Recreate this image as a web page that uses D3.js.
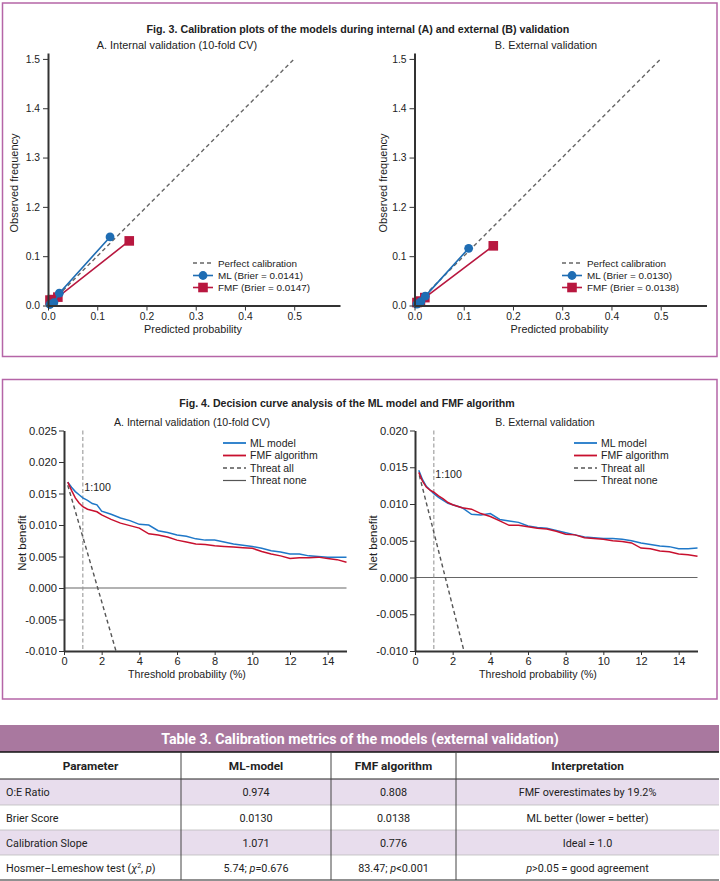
<!DOCTYPE html>
<html>
<head>
<meta charset="utf-8">
<script src="https://cdn.jsdelivr.net/npm/d3@7"></script>
<style>
  body { margin: 0; background: #fff; }
  text { font-family: "Liberation Sans", Arial, sans-serif; fill: #222; }
  .tbl text { font-family: Roboto, "Liberation Sans", sans-serif; }
  .axis path, .axis line { stroke: #333; }
  .axis text { font-size: 10px; fill: #222; }
</style>
</head>
<body>
<div id="chart"></div>
<script>
// ---- data: calibration plots (Fig. 3) ----
const calibTicks = [0, 0.1, 0.2, 0.3, 0.4, 0.5];
const calibYLabels = ["0.0", "0.1", "1.2", "1.3", "1.4", "1.5"];
const calibXLabels = ["0.0", "0.1", "0.2", "0.3", "0.4", "0.5"];
const perfectLine = [[0, 0], [0.5, 0.5]];
// [predicted, observed]
const mlInternal = [[0.004, 0.002], [0.012, 0.006], [0.023, 0.025], [0.126, 0.139]];
const fmfInternal = [[0.004, 0.011], [0.009, 0.012], [0.020, 0.017], [0.165, 0.131]];
const mlExternal = [[0.005, 0.003], [0.013, 0.008], [0.022, 0.019], [0.110, 0.116]];
const fmfExternal = [[0.005, 0.006], [0.012, 0.009], [0.021, 0.016], [0.160, 0.121]];
const calibLegendA = ["Perfect calibration", "ML (Brier = 0.0141)", "FMF (Brier = 0.0147)"];
const calibLegendB = ["Perfect calibration", "ML (Brier = 0.0130)", "FMF (Brier = 0.0138)"];

// ---- data: decision curves (Fig. 4) ----
const thresholds = [0.2, 0.4, 0.6, 0.8, 1.0, 1.25, 1.5, 1.75, 2.0, 2.5, 3.0, 3.5, 4.0, 4.5, 5.0, 5.5, 6.0, 6.5, 7.0, 7.5,
  8.0, 8.5, 9.0, 9.5, 10.0, 10.5, 11.0, 11.5, 12.0, 12.5, 13.0, 13.5, 14.0, 14.5, 15.0];
const nbMlInternal = [0.0168, 0.0160, 0.0153, 0.0148, 0.0143, 0.0139, 0.0134, 0.0132, 0.0122, 0.0117, 0.0111, 0.0107,
  0.0101, 0.0100, 0.0091, 0.0088, 0.0084, 0.0082, 0.0078, 0.0076, 0.0076, 0.0073, 0.0070, 0.0068, 0.0066, 0.0063,
  0.0059, 0.0057, 0.0054, 0.0054, 0.0051, 0.0050, 0.0049, 0.0049, 0.0049];
const nbFmfInternal = [0.0168, 0.0155, 0.0143, 0.0135, 0.0129, 0.0125, 0.0123, 0.0121, 0.0116, 0.0109, 0.0103, 0.0099,
  0.0095, 0.0086, 0.0084, 0.0081, 0.0076, 0.0073, 0.0070, 0.0069, 0.0067, 0.0066, 0.0065, 0.0064, 0.0063, 0.0058,
  0.0054, 0.0051, 0.0047, 0.0048, 0.0048, 0.0049, 0.0047, 0.0045, 0.0041];
const nbMlExternal = [0.0146, 0.0133, 0.0124, 0.0119, 0.0114, 0.0109, 0.0105, 0.0101, 0.0099, 0.0095, 0.0086, 0.0085,
  0.0087, 0.0079, 0.0077, 0.0075, 0.0070, 0.0068, 0.0067, 0.0064, 0.0061, 0.0058, 0.0055, 0.0054, 0.0053, 0.0053,
  0.0052, 0.0050, 0.0047, 0.0045, 0.0043, 0.0042, 0.0039, 0.0039, 0.0040];
const nbFmfExternal = [0.0143, 0.0131, 0.0123, 0.0119, 0.0116, 0.0111, 0.0107, 0.0102, 0.0099, 0.0095, 0.0093, 0.0087,
  0.0083, 0.0077, 0.0071, 0.0071, 0.0069, 0.0067, 0.0066, 0.0063, 0.0059, 0.0058, 0.0054, 0.0053, 0.0052, 0.0050,
  0.0049, 0.0047, 0.0040, 0.0039, 0.0036, 0.0035, 0.0032, 0.0031, 0.0029];
// treat all: [threshold %, net benefit]
const treatAllInternal = [[0.2, 0.0163], [1.79, 0.0], [2.76, -0.010]];
const treatAllExternal = [[0.23, 0.0139], [1.61, 0.0], [2.6, -0.010]];
const dcaXTicks = [0, 2, 4, 6, 8, 10, 12, 14];
const dcaYTicksA = [-0.010, -0.005, 0, 0.005, 0.010, 0.015, 0.020, 0.025];
const dcaYTicksB = [-0.010, -0.005, 0, 0.005, 0.010, 0.015, 0.020];
const dcaLegend = ["ML model", "FMF algorithm", "Threat all", "Threat none"];

// ---- data: table 3 ----
const tableTitle = "Table 3. Calibration metrics of the models (external validation)";
const tableHeader = ["Parameter", "ML-model", "FMF algorithm", "Interpretation"];
const tableRows = [
  ["O:E Ratio", "0.974", "0.808", "FMF overestimates by 19.2%"],
  ["Brier Score", "0.0130", "0.0138", "ML better (lower = better)"],
  ["Calibration Slope", "1.071", "0.776", "Ideal = 1.0"],
  ["Hosmer–Lemeshow test (χ2, p)", "5.74; p=0.676", "83.47; p<0.001", "p>0.05 = good agreement"]
];

const blue = "#1f6db3", red = "#b8173f";
const dcaBlue = "#1f78c8", dcaRed = "#c8102e";
const frame = "#b565a7";

const svg = d3.select("#chart").append("svg")
    .attr("width", 720)
    .attr("height", 881);

// cadres des figures
svg.append("rect").attr("x", 2.5).attr("y", 3).attr("width", 714.5).attr("height", 353.5)
    .attr("fill", "none").attr("stroke", frame).attr("stroke-width", 1.5);
svg.append("rect").attr("x", 2.5).attr("y", 379.5).attr("width", 714.5).attr("height", 319.5)
    .attr("fill", "none").attr("stroke", frame).attr("stroke-width", 1.5);

svg.append("text").attr("x", 358).attr("y", 32.5).attr("text-anchor", "middle")
    .style("font-weight", "bold").style("font-size", "10.7px")
    .text("Fig. 3. Calibration plots of the models during internal (A) and external (B) validation");
svg.append("text").attr("x", 347).attr("y", 406.5).attr("text-anchor", "middle")
    .style("font-weight", "bold").style("font-size", "10.6px")
    .text("Fig. 4. Decision curve analysis of the ML model and FMF algorithm");

function styleAxis(g) {
    g.select(".domain").attr("stroke-width", 2);
    g.selectAll(".tick line").attr("stroke-width", 1);
}

// ---------- calibration panel ----------
function calibPanel(cfg) {
    const x = d3.scaleLinear().domain([0, 0.593]).range([cfg.left, cfg.left + 292]);
    const y = d3.scaleLinear().domain([0, 0.512]).range([305.5, 53]);
    const g = svg.append("g");

    g.append("text").attr("x", cfg.subX).attr("y", 49).attr("text-anchor", "middle")
        .style("font-size", "10.9px").text(cfg.subtitle);

    const line = d3.line().x(d => x(d[0])).y(d => y(d[1]));
    g.append("path").datum(perfectLine).attr("d", line)
        .attr("fill", "none").attr("stroke", "#666").attr("stroke-width", 1.4).attr("stroke-dasharray", "4,3");

    g.append("path").datum(cfg.fmf).attr("d", line)
        .attr("fill", "none").attr("stroke", red).attr("stroke-width", 1.6);
    g.selectAll(".fmfpt").data(cfg.fmf).enter().append("rect")
        .attr("x", d => x(d[0]) - 4.8).attr("y", d => y(d[1]) - 4.8)
        .attr("width", 9.6).attr("height", 9.6).attr("fill", red);

    g.append("path").datum(cfg.ml).attr("d", line)
        .attr("fill", "none").attr("stroke", blue).attr("stroke-width", 1.6);
    g.selectAll(".mlpt").data(cfg.ml).enter().append("circle")
        .attr("cx", d => x(d[0])).attr("cy", d => y(d[1])).attr("r", 4.4).attr("fill", blue);

    const xa = g.append("g").attr("class", "axis").attr("transform", "translate(0,305.5)")
        .call(d3.axisBottom(x).tickValues(calibTicks).tickFormat((d, i) => calibXLabels[i])
            .tickSize(5).tickSizeOuter(0).tickPadding(2));
    styleAxis(xa);
    const ya = g.append("g").attr("class", "axis").attr("transform", "translate(" + cfg.left + ",0)")
        .call(d3.axisLeft(y).tickValues(calibTicks).tickFormat((d, i) => calibYLabels[i])
            .tickSize(5).tickSizeOuter(0).tickPadding(3));
    styleAxis(ya);
    xa.selectAll("text").style("font-size", "10.3px");
    ya.selectAll("text").style("font-size", "10.3px");

    g.append("text").attr("x", cfg.left + 145).attr("y", 333).attr("text-anchor", "middle")
        .style("font-size", "10.8px").text("Predicted probability");
    g.append("text").attr("transform", "translate(" + (cfg.left - cfg.ylabOff) + ",183) rotate(-90)")
        .attr("text-anchor", "middle").style("font-size", "11px").text("Observed frequency");

    // légende
    const lx = cfg.legendX, rows = [263, 275.5, 287.5];
    g.append("line").attr("x1", lx).attr("x2", lx + 20).attr("y1", rows[0]).attr("y2", rows[0])
        .attr("stroke", "#666").attr("stroke-width", 1.4).attr("stroke-dasharray", "4,3");
    g.append("line").attr("x1", lx).attr("x2", lx + 20).attr("y1", rows[1]).attr("y2", rows[1])
        .attr("stroke", blue).attr("stroke-width", 1.6);
    g.append("circle").attr("cx", lx + 10).attr("cy", rows[1]).attr("r", 4.4).attr("fill", blue);
    g.append("line").attr("x1", lx).attr("x2", lx + 20).attr("y1", rows[2]).attr("y2", rows[2])
        .attr("stroke", red).attr("stroke-width", 1.6);
    g.append("rect").attr("x", lx + 5.2).attr("y", rows[2] - 4.8).attr("width", 9.6).attr("height", 9.6).attr("fill", red);
    cfg.legend.forEach((t, i) => {
        g.append("text").attr("x", lx + 25).attr("y", rows[i] + 3.6).style("font-size", "9.9px").text(t);
    });
}

calibPanel({left: 48, subX: 177, subtitle: "A. Internal validation (10-fold CV)", ylabOff: 30,
    ml: mlInternal, fmf: fmfInternal, legend: calibLegendA, legendX: 193});
calibPanel({left: 414.5, subX: 546, subtitle: "B. External validation", ylabOff: 27.5,
    ml: mlExternal, fmf: fmfExternal, legend: calibLegendB, legendX: 562});

// ---------- decision curve panel ----------
function dcaPanel(cfg) {
    const x = d3.scaleLinear().domain([0, 15]).range([cfg.left, cfg.left + 282.5]);
    const y = d3.scaleLinear().domain([-0.010, cfg.ymax]).range([651, 430.5]);
    const g = svg.append("g");

    g.append("text").attr("x", cfg.subX).attr("y", 425.5).attr("text-anchor", "middle")
        .style("font-size", "10.6px").text(cfg.subtitle);

    // threat none
    g.append("line").attr("x1", x(0)).attr("x2", x(15)).attr("y1", y(0)).attr("y2", y(0))
        .attr("stroke", "#666").attr("stroke-width", 1.2);
    // 1:100
    g.append("line").attr("x1", x(1)).attr("x2", x(1)).attr("y1", y(cfg.ymax)).attr("y2", y(-0.010))
        .attr("stroke", "#999").attr("stroke-width", 1.1).attr("stroke-dasharray", "4,2.5");
    g.append("text").attr("x", x(1) + 1.5).attr("y", cfg.ratioY).style("font-size", "10.6px").text("1:100");

    const line = d3.line().x(d => x(d[0])).y(d => y(d[1]));
    g.append("path").datum(cfg.treatAll).attr("d", line)
        .attr("fill", "none").attr("stroke", "#555").attr("stroke-width", 1.4).attr("stroke-dasharray", "4,3");

    const nbLine = d3.line().x((d, i) => x(thresholds[i])).y(d => y(d));
    g.append("path").datum(cfg.ml).attr("d", nbLine)
        .attr("fill", "none").attr("stroke", dcaBlue).attr("stroke-width", 1.5);
    g.append("path").datum(cfg.fmf).attr("d", nbLine)
        .attr("fill", "none").attr("stroke", dcaRed).attr("stroke-width", 1.5);

    const xa = g.append("g").attr("class", "axis").attr("transform", "translate(0,651)")
        .call(d3.axisBottom(x).tickValues(dcaXTicks).tickFormat(d => d)
            .tickSize(4).tickSizeOuter(0).tickPadding(2));
    styleAxis(xa);
    const ya = g.append("g").attr("class", "axis").attr("transform", "translate(" + cfg.left + ",0)")
        .call(d3.axisLeft(y).tickValues(cfg.yTicks).tickFormat(d => d.toFixed(3))
            .tickSize(5).tickSizeOuter(0).tickPadding(2));
    styleAxis(ya);
    xa.selectAll("text").style("font-size", "11px");
    ya.selectAll("text").style("font-size", "11.2px");

    g.append("text").attr("x", cfg.left + 123).attr("y", 678).attr("text-anchor", "middle")
        .style("font-size", "10.6px").text("Threshold probability (%)");
    g.append("text").attr("transform", "translate(" + cfg.labelX + ",543) rotate(-90)")
        .attr("text-anchor", "middle").style("font-size", "11.5px").text("Net benefit");

    // légende
    const lx = cfg.legendX, rows = [443, 455.5, 468, 480.5];
    const styles = [
        {c: dcaBlue, w: 1.8, d: null},
        {c: dcaRed, w: 1.8, d: null},
        {c: "#555", w: 1.4, d: "4,3"},
        {c: "#555", w: 1.2, d: null}
    ];
    dcaLegend.forEach((t, i) => {
        g.append("line").attr("x1", lx).attr("x2", lx + 23).attr("y1", rows[i]).attr("y2", rows[i])
            .attr("stroke", styles[i].c).attr("stroke-width", styles[i].w)
            .attr("stroke-dasharray", styles[i].d);
        g.append("text").attr("x", lx + 27).attr("y", rows[i] + 3.7).style("font-size", "10.5px").text(t);
    });
}

dcaPanel({left: 64, ymax: 0.025, yTicks: dcaYTicksA, subX: 192, subtitle: "A. Internal validation (10-fold CV)",
    ml: nbMlInternal, fmf: nbFmfInternal, treatAll: treatAllInternal, legendX: 223, ratioY: 491, labelX: 26});
dcaPanel({left: 415, ymax: 0.020, yTicks: dcaYTicksB, subX: 545, subtitle: "B. External validation",
    ml: nbMlExternal, fmf: nbFmfExternal, treatAll: treatAllExternal, legendX: 574, ratioY: 478, labelX: 376.5});

// ---------- table 3 ----------
const cols = [0, 181, 331, 456, 719];
const rowEdges = [779, 805, 830, 855, 880];
const tg = svg.append("g").attr("class", "tbl");

tg.append("rect").attr("x", 0).attr("y", 725).attr("width", 719).attr("height", 27).attr("fill", "#a9789f");
tg.append("text").attr("x", 360).attr("y", 743.5).attr("text-anchor", "middle")
    .style("font-weight", "bold").style("font-size", "14.2px").style("fill", "#fff").text(tableTitle);

tableRows.forEach((r, i) => {
    tg.append("rect").attr("x", 0).attr("y", rowEdges[i]).attr("width", 719)
        .attr("height", rowEdges[i + 1] - rowEdges[i]).attr("fill", i % 2 === 0 ? "#e8dded" : "#fff");
});

tableHeader.forEach((h, j) => {
    tg.append("text").attr("x", (cols[j] + cols[j + 1]) / 2).attr("y", 770).attr("text-anchor", "middle")
        .style("font-weight", "bold").style("font-size", "11.8px").text(h);
});

function richText(t, s) {
    // p et χ en italique, 2 en exposant
    const parts = s.split(/(χ2|p)/);
    let shift = 0;
    parts.forEach(p => {
        if (p === "") return;
        if (p === "χ2") {
            t.append("tspan").attr("dy", shift).style("font-style", "italic").text("χ");
            t.append("tspan").attr("dy", -4).style("font-size", "7px").text("2");
            shift = 4;
            return;
        }
        const ts = t.append("tspan").attr("dy", shift).text(p);
        if (p === "p") ts.style("font-style", "italic");
        shift = 0;
    });
}

tableRows.forEach((r, i) => {
    const cy = (rowEdges[i] + rowEdges[i + 1]) / 2 + 4;
    r.forEach((v, j) => {
        const t = tg.append("text").attr("y", cy).style("font-size", "10.8px");
        if (j === 0) t.attr("x", 6);
        else t.attr("x", (cols[j] + cols[j + 1]) / 2).attr("text-anchor", "middle");
        if (i === 3) richText(t, v); else t.text(v);
    });
});

// lignes du tableau
tg.append("line").attr("x1", 0).attr("x2", 719).attr("y1", 752).attr("y2", 752).attr("stroke", "#111").attr("stroke-width", 1.6);
tg.append("line").attr("x1", 0).attr("x2", 719).attr("y1", 779).attr("y2", 779).attr("stroke", "#222").attr("stroke-width", 1);
[805, 830, 855].forEach(yy => {
    tg.append("line").attr("x1", 0).attr("x2", 719).attr("y1", yy).attr("y2", yy).attr("stroke", "#bbb").attr("stroke-width", 0.8);
});
tg.append("line").attr("x1", 0).attr("x2", 719).attr("y1", 880).attr("y2", 880).attr("stroke", "#222").attr("stroke-width", 1.2);
cols.slice(1, 4).forEach(xx => {
    tg.append("line").attr("x1", xx).attr("x2", xx).attr("y1", 752).attr("y2", 880).attr("stroke", "#444").attr("stroke-width", 1);
});
</script>
</body>
</html>
